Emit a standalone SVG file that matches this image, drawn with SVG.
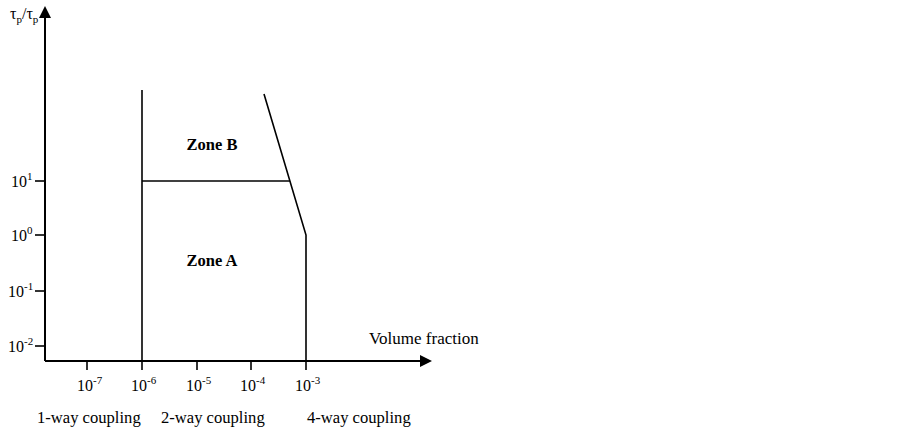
<svg xmlns="http://www.w3.org/2000/svg" width="902" height="433" viewBox="0 0 902 433">
<style>
text{font-family:"Liberation Serif","Times New Roman",serif;font-size:17px;fill:#000}
.n{font-size:16px}
.c{font-size:16.6px}
.sup{font-size:11px}
.sub{font-size:11px}
.b{font-weight:bold;font-size:16.5px}
.ln{stroke:#000;stroke-width:1.6;fill:none}
.ax{stroke:#000;stroke-width:2;fill:none}
.tk{stroke:#000;stroke-width:1.6}
.m{text-anchor:middle}
</style>
<defs>
<marker id="arr" markerWidth="12" markerHeight="12" refX="10" refY="6" orient="auto" markerUnits="userSpaceOnUse">
<path d="M0,0 L12,6 L0,12 Z" fill="#000"/>
</marker>
</defs>
<g id="axes">
<line class="ax" x1="45" y1="361" x2="45" y2="8" marker-end="url(#arr)"/>
<line class="ax" x1="45" y1="361" x2="430" y2="361" marker-end="url(#arr)"/>
</g>
<g id="ticks">
<line class="tk" x1="35" y1="181" x2="45" y2="181"/>
<line class="tk" x1="35" y1="235" x2="45" y2="235"/>
<line class="tk" x1="35" y1="291" x2="45" y2="291"/>
<line class="tk" x1="35" y1="346" x2="45" y2="346"/>
<line class="tk" x1="87" y1="361" x2="87" y2="370"/>
<line class="tk" x1="197" y1="361" x2="197" y2="370"/>
<line class="tk" x1="251" y1="361" x2="251" y2="370"/>
</g>
<g id="connectors">
<line class="ln" x1="142" y1="90" x2="142" y2="370"/>
<line class="ln" x1="142" y1="181" x2="290" y2="181"/>
<polyline class="ln" points="264,94 306,235 306,370"/>
</g>
<g id="labels">
<text class="n" x="10" y="19">τ<tspan class="sub" dy="4">p</tspan><tspan dy="-4">/τ</tspan><tspan class="sub" dy="4">p</tspan></text>
<text class="n" x="11" y="187">10<tspan class="sup" dy="-7">1</tspan></text>
<text class="n" x="11" y="241">10<tspan class="sup" dy="-7">0</tspan></text>
<text class="n" x="8" y="297">10<tspan class="sup" dy="-7">-1</tspan></text>
<text class="n" x="8" y="352">10<tspan class="sup" dy="-7">-2</tspan></text>
<text class="n" x="77" y="391">10<tspan class="sup" dy="-7">-7</tspan></text>
<text class="n" x="131" y="391">10<tspan class="sup" dy="-7">-6</tspan></text>
<text class="n" x="186" y="391">10<tspan class="sup" dy="-7">-5</tspan></text>
<text class="n" x="240" y="391">10<tspan class="sup" dy="-7">-4</tspan></text>
<text class="n" x="295" y="391">10<tspan class="sup" dy="-7">-3</tspan></text>
<text x="369" y="344">Volume fraction</text>
<text class="b m" x="212" y="150">Zone B</text>
<text class="b m" x="212" y="266">Zone A</text>
<text class="c" x="37" y="423">1-way coupling</text>
<text class="c" x="161" y="423">2-way coupling</text>
<text class="c" x="307" y="423">4-way coupling</text>
</g>
</svg>
